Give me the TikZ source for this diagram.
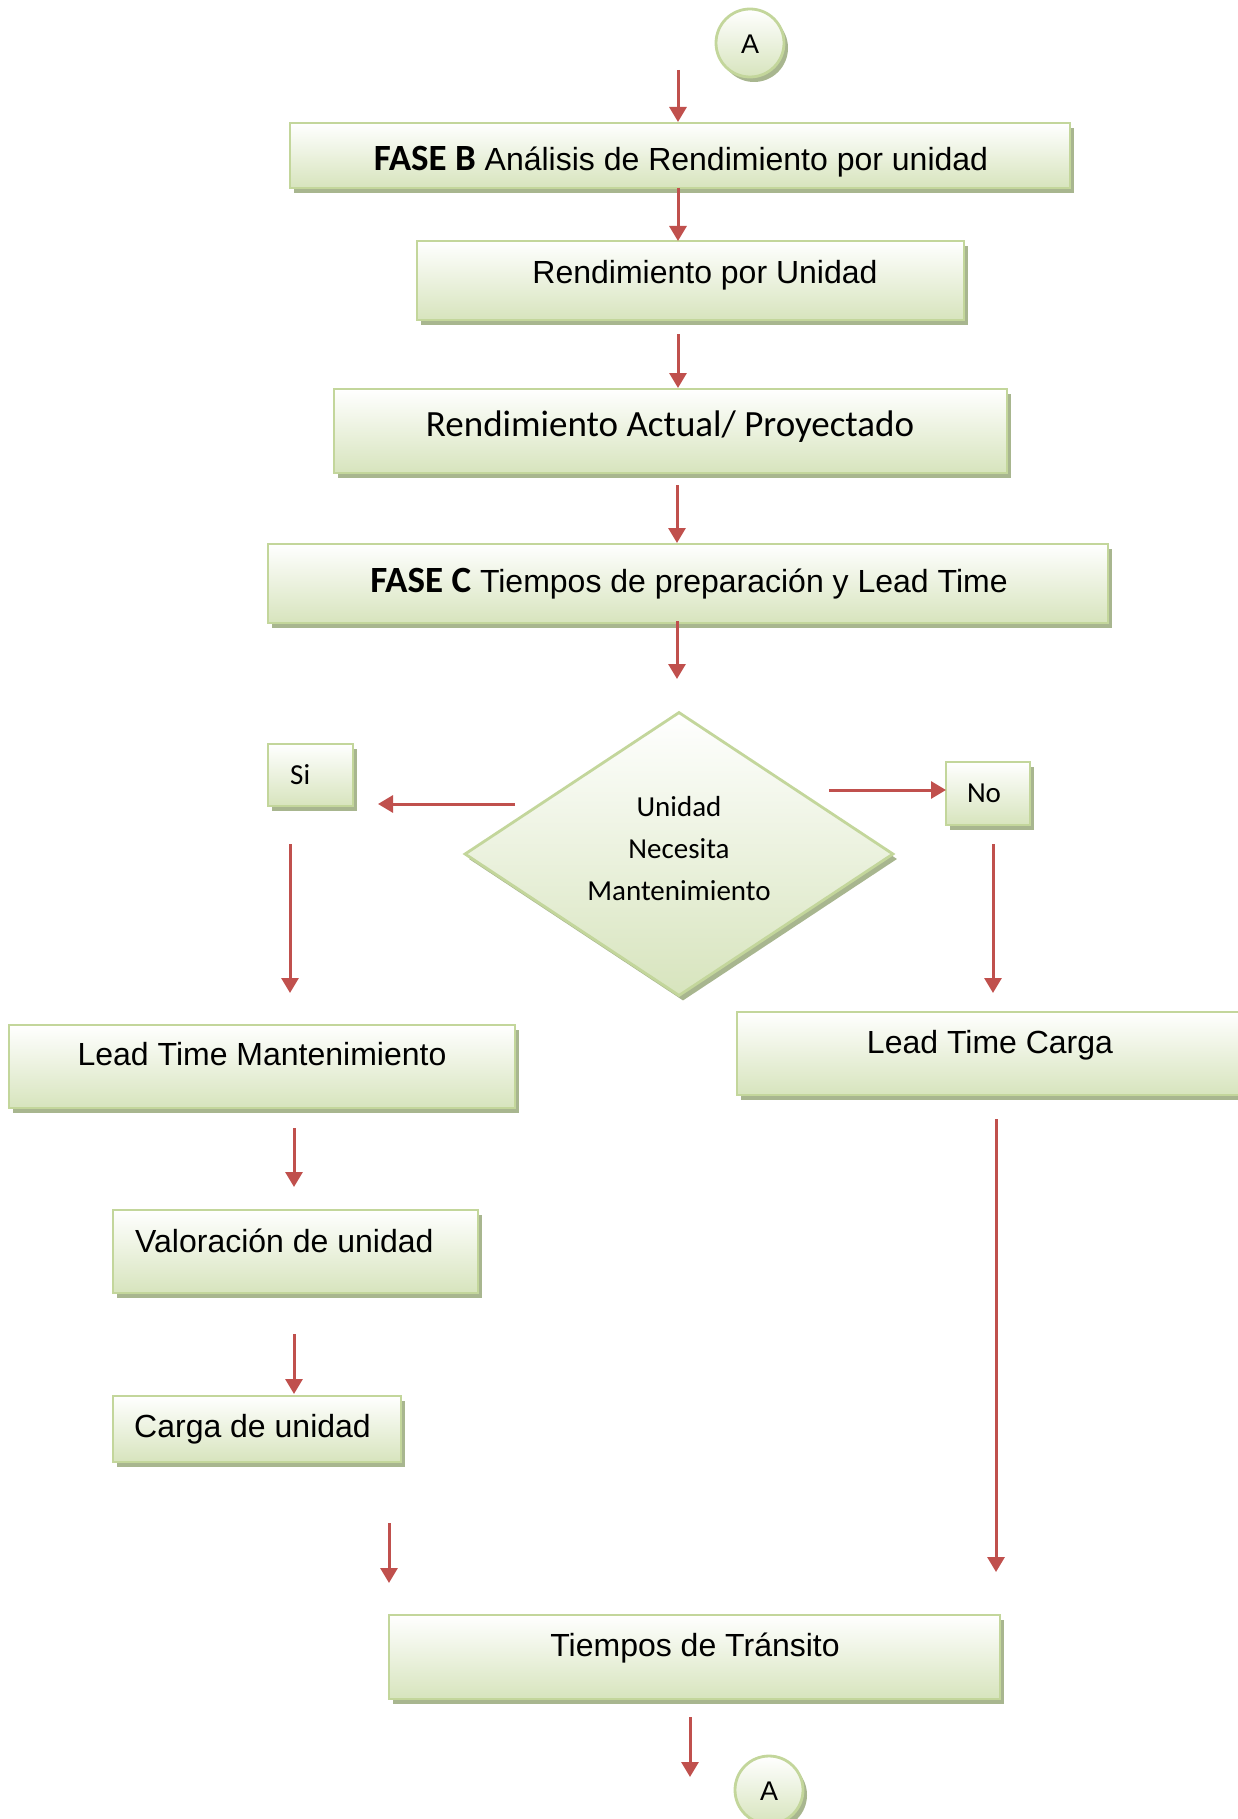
\documentclass[tikz,border=0pt]{standalone}
\usepackage{fontspec}
\setmainfont{Liberation Sans}
\newfontfamily\calfont{Carlito}
\usetikzlibrary{shapes.geometric,shadows,arrows.meta}
\definecolor{boxfill}{HTML}{D7E4BD}
\definecolor{boxline}{HTML}{C3D69B}
\definecolor{boxshade}{HTML}{A8B68F}
\definecolor{arrowred}{HTML}{C0504D}
\tikzset{
  stepbox/.style={draw=boxline, line width=2.8pt, top color=white, bottom color=boxfill,
    drop shadow={shadow xshift=4pt, shadow yshift=-5pt, fill=boxshade, opacity=1},
    inner sep=0pt, rectangle},
  flow/.style={draw=arrowred, line width=3pt, -{Triangle[length=15pt,width=17pt]}},
  arialtxt/.style={font=\fontsize{32}{38}\selectfont, inner sep=0pt, text height=23pt, text depth=0pt},
  caltxt/.style={font=\calfont\fontsize{37}{44}\selectfont, inner sep=0pt, text height=24pt, text depth=0pt},
  smalltxt/.style={font=\calfont\fontsize{29}{42}\selectfont, inner sep=0pt, text height=19pt, text depth=0pt},
}
\newcommand{\fase}{\calfont\bfseries\fontsize{37}{44}\selectfont}
\newcommand{\boxat}[5]{% name, x1, y1, x2, y2
  \node[stepbox, minimum width={#4-#2}, minimum height={#5-#3}] (#1) at ({(#2+#4)/2},{(#3+#5)/2}) {};}
\begin{document}
\begin{tikzpicture}[x=1pt,y=-1pt]
\useasboundingbox (0,0) rectangle (1237,1819);

% connector circle at the top
\node[stepbox, circle, minimum size=68pt] (topA) at (750,43) {};
\node[font=\fontsize{27}{32}\selectfont, inner sep=0pt] (topAtxt) at (750,44) {A};

% process boxes
\boxat{faseB}{290}{123}{1070}{188}
\boxat{rendU}{417}{241}{964}{320}
\boxat{rendA}{334}{389}{1007}{473}
\boxat{faseC}{268}{544}{1108}{623}
\boxat{si}{268}{744}{353}{806}
\boxat{no}{946}{762}{1030}{825}
\boxat{ltm}{9}{1025}{515}{1108}
\boxat{ltc}{737}{1012}{1260}{1095}
\boxat{val}{113}{1210}{478}{1293}
\boxat{carga}{113}{1396}{401}{1462}
\boxat{trans}{389}{1615}{1000}{1699}

% decision
\node[stepbox, diamond, minimum width=429pt, minimum height=284pt] (dec) at (679,854) {};

% texts
\node[arialtxt] (faseBtxt) at (681,159) {{\fase FASE B} Análisis de Rendimiento por unidad};
\node[arialtxt] (rendUtxt) at (705,272) {Rendimiento por Unidad};
\node[caltxt] (rendAtxt) at (670,424) {Rendimiento Actual/ Proyectado};
\node[arialtxt] (faseCtxt) at (689,581) {{\fase FASE C} Tiempos de preparación y Lead Time};
\node[smalltxt, align=center, text height=, text depth=] (dectxt) at (679,849) {Unidad\\Necesita\\Mantenimiento};
\node[smalltxt, anchor=west] (sitxt) at (290,775) {Si};
\node[smalltxt] (notxt) at (984,793) {No};
\node[arialtxt] (ltmtxt) at (262,1054) {Lead Time Mantenimiento};
\node[arialtxt] (ltctxt) at (990,1042) {Lead Time Carga};
\node[arialtxt, anchor=west] (valtxt) at (135,1241) {Valoración de unidad};
\node[arialtxt, anchor=west] (cargatxt) at (134,1426) {Carga de unidad};
\node[arialtxt] (transtxt) at (695,1645) {Tiempos de Tránsito};

% connector circle at the bottom
\node[stepbox, circle, minimum size=68pt] (botA) at (769,1790) {};
\node[font=\fontsize{27}{32}\selectfont, inner sep=0pt] (botAtxt) at (769,1791) {A};

% arrow end points
\coordinate (p1s) at (678,70);   \coordinate (p1e) at (678,122);
\coordinate (p2s) at (678,188);  \coordinate (p2e) at (678,241);
\coordinate (p3s) at (678,334);  \coordinate (p3e) at (678,388);
\coordinate (p4s) at (677,485);  \coordinate (p4e) at (677,543);
\coordinate (p5s) at (677,621);  \coordinate (p5e) at (677,679);
\coordinate (psis) at (515,804); \coordinate (psie) at (378,804);
\coordinate (pnos) at (829,790); \coordinate (pnoe) at (946,790);
\coordinate (psds) at (290,844); \coordinate (psde) at (290,993);
\coordinate (pnds) at (993,844); \coordinate (pnde) at (993,993);
\coordinate (pl1s) at (294,1128);\coordinate (pl1e) at (294,1187);
\coordinate (pl2s) at (294,1334);\coordinate (pl2e) at (294,1394);
\coordinate (pl3s) at (389,1523);\coordinate (pl3e) at (389,1583);
\coordinate (prs) at (996,1119); \coordinate (pre) at (996,1572);
\coordinate (pbs) at (690,1717); \coordinate (pbe) at (690,1777);

% arrows
\draw[flow] (p1s) -- (p1e);
\draw[flow] (p2s) -- (p2e);
\draw[flow] (p3s) -- (p3e);
\draw[flow] (p4s) -- (p4e);
\draw[flow] (p5s) -- (p5e);
\draw[flow] (psis) -- (psie);
\draw[flow] (pnos) -- (pnoe);
\draw[flow] (psds) -- (psde);
\draw[flow] (pnds) -- (pnde);
\draw[flow] (pl1s) -- (pl1e);
\draw[flow] (pl2s) -- (pl2e);
\draw[flow] (pl3s) -- (pl3e);
\draw[flow] (prs) -- (pre);
\draw[flow] (pbs) -- (pbe);
\end{tikzpicture}
\end{document}
